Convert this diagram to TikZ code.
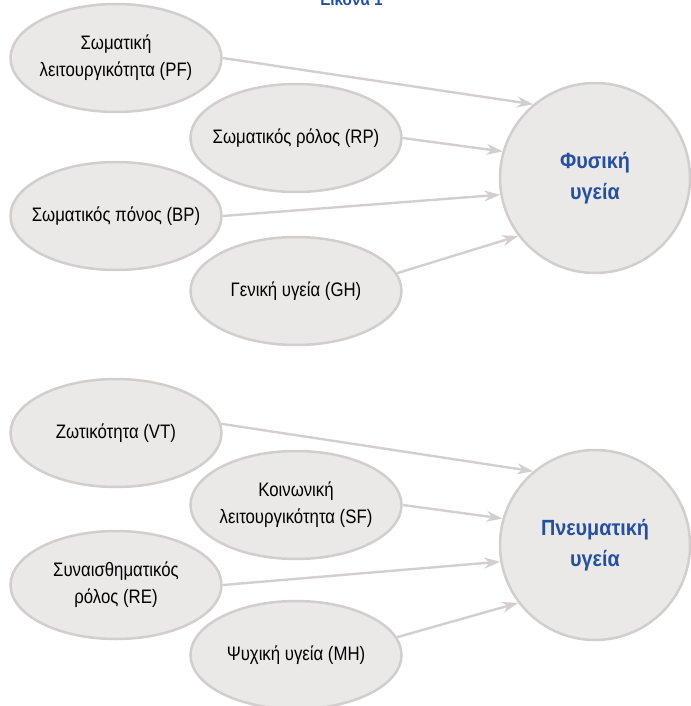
\documentclass[tikz,border=0pt]{standalone}
\usepackage{fontspec}
\setmainfont{Liberation Sans}[FakeStretch=0.86]
\newfontfamily\bluefont{Liberation Sans}[FakeStretch=0.9]
\usetikzlibrary{arrows.meta,shapes.geometric}
\definecolor{efill}{HTML}{EBE8E8}
\definecolor{eline}{HTML}{D2CECE}
\definecolor{aline}{HTML}{D3CFCF}
\definecolor{tblue}{HTML}{2450A2}
\begin{document}
\begin{tikzpicture}[x=1pt,y=-1pt,
  ell/.style={ellipse, draw=eline, fill=efill, line width=2.5pt,
    minimum width=211pt, minimum height=108pt, inner xsep=-30pt, inner ysep=0pt,
    align=center, font=\fontsize{19.5}{27}\selectfont},
  big/.style={circle, draw=eline, fill=efill, line width=2.5pt,
    minimum size=190pt, inner sep=0pt, align=center, text=tblue,
    font=\bluefont\bfseries\fontsize{22}{31}\selectfont},
  arr/.style={draw=aline, line width=2.4pt, -{Stealth[length=16pt,width=11pt]}},
  ttl/.style={text=tblue, font=\bluefont\bfseries\fontsize{17}{20}\selectfont, inner sep=0pt}]
\useasboundingbox (0,0) rectangle (690,706);
\node[ttl, anchor=base] (title) at (351.5,6) {Εικόνα 1};
% upper group
\node[ell] (pf) at (116,58) {Σωματική\\λειτουργικότητα (PF)};
\node[ell] (rp) at (296,138) {Σωματικός ρόλος (RP)};
\node[ell] (bp) at (116,216) {Σωματικός πόνος (BP)};
\node[ell] (gh) at (296,291) {Γενική υγεία (GH)};
\node[big] (phys) at (595,178) {Φυσική\\υγεία};
\draw[arr] (pf.east) -- (phys.130);
\draw[arr] (rp.east) -- (phys.164);
\draw[arr] (bp.east) -- (phys.190);
\draw[arr] (gh.10) -- (phys.217);
% lower group
\node[ell] (vt) at (116,433) {Ζωτικότητα (VT)};
\node[ell] (sf) at (296,505) {Κοινωνική\\λειτουργικότητα (SF)};
\node[ell] (re) at (116,585) {Συναισθηματικός\\ρόλος (RE)};
\node[ell] (mh) at (296,655) {Ψυχική υγεία (MH)};
\node[big] (ment) at (595,545) {Πνευματική\\υγεία};
\draw[arr] (vt.5) -- (ment.130);
\draw[arr] (sf.east) -- (ment.164);
\draw[arr] (re.east) -- (ment.190);
\draw[arr] (mh.10) -- (ment.217);
\end{tikzpicture}
\end{document}
